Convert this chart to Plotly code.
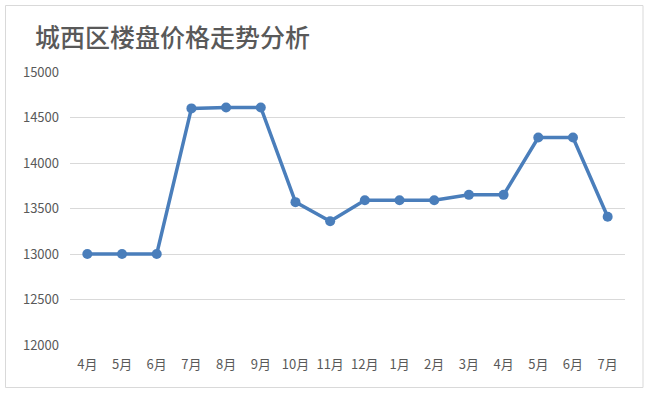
import plotly.graph_objects as go

months = ["4月", "5月", "6月", "7月", "8月", "9月", "10月", "11月", "12月",
          "1月", "2月", "3月", "4月", "5月", "6月", "7月"]
prices = [13000, 13000, 13000, 14600, 14610, 14610, 13570, 13360, 13590,
          13590, 13590, 13650, 13650, 14280, 14280, 13410]
y_ticks = [12000, 12500, 13000, 13500, 14000, 14500, 15000]
title = "城西区楼盘价格走势分析"

W, H = 650, 395
ml, mr, mt, mb = 70, 25, 72, 50
pw, ph = W - ml - mr, H - mt - mb

x_idx = list(range(len(months)))

fig = go.Figure()
fig.add_trace(go.Scatter(
    x=x_idx, y=prices, mode="lines+markers",
    line=dict(color="#4A7EBB", width=3.5),
    marker=dict(color="#4A7EBB", size=10),
    hoverinfo="x+y",
))

font_family = "Noto Sans CJK SC, Noto Sans, sans-serif"

def px_x(p):
    return (p - ml) / pw

def px_y(p):
    return 1 - (p - mt) / ph

fig.update_layout(
    width=W, height=H,
    margin=dict(l=ml, r=mr, t=mt, b=mb),
    paper_bgcolor="white", plot_bgcolor="white",
    showlegend=False,
    font=dict(family=font_family, color="#595959", size=13),
    title=dict(text=title, x=35 / W, xanchor="left", y=1 - 38 / H, yanchor="middle",
               font=dict(size=25, color="#595959", family=font_family, weight=500)),
    xaxis=dict(
        range=[-0.5, len(months) - 0.5],
        tickmode="array", tickvals=x_idx, ticktext=months,
        showgrid=False, zeroline=False, showline=False,
        ticks="", tickfont=dict(size=13, color="#595959"),
        ticklabelstandoff=10,
        fixedrange=True,
    ),
    yaxis=dict(
        range=[12000, 15000],
        tickmode="array", tickvals=y_ticks, ticktext=[str(v) for v in y_ticks],
        showgrid=True, gridcolor="#D9D9D9", gridwidth=1,
        zeroline=False, showline=False, ticks="",
        tickfont=dict(size=13, color="#595959"),
        ticklabelstandoff=10,
        fixedrange=True,
    ),
    shapes=[dict(
        type="rect", xref="paper", yref="paper",
        x0=px_x(5.5), x1=px_x(643), y0=px_y(387.5), y1=px_y(5.5),
        line=dict(color="#D9D9D9", width=1), fillcolor="rgba(0,0,0,0)",
        layer="below",
    )],
)

fig.write_html(
    "out.html",
    config={"displayModeBar": False},
    post_script="document.body.style.margin='0';document.body.style.overflow='hidden';",
)
